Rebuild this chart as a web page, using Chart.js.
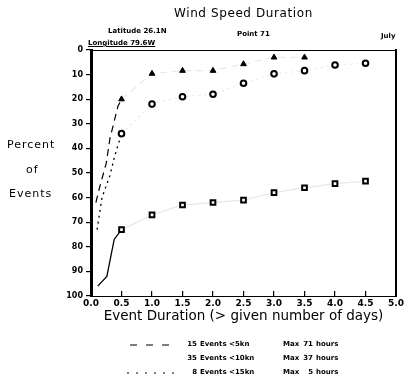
<!DOCTYPE html>
<html>
<head>
<meta charset="utf-8">
<script src="https://cdn.jsdelivr.net/npm/chart.js@4/dist/chart.umd.min.js"></script>
<style>
  html, body { margin: 0; padding: 0; background: #fff; }
  #wrap { position: relative; width: 411px; height: 385px; overflow: hidden; }
  #c { position: absolute; left: 0; top: 0; }
  .t { position: absolute; color: #000; font-family: "DejaVu Sans", sans-serif; white-space: nowrap; line-height: 1; }
  .sm { font-size: 7px; font-weight: bold; }
  .lg { font-size: 11px; letter-spacing: 1px; }
</style>
</head>
<body>
<div id="wrap">
  <canvas id="c" width="411" height="385"></canvas>
  <div class="t" style="left:174px;top:7px;font-size:12px;letter-spacing:0.6px;">Wind Speed Duration</div>
  <div class="t sm" style="left:108px;top:28px;">Latitude 26.1N</div>
  <div class="t sm" style="left:88px;top:40px;text-decoration:underline;">Longitude 79.6W</div>
  <div class="t sm" style="left:237px;top:31px;">Point 71</div>
  <div class="t sm" style="left:381px;top:33px;">July</div>
  <div class="t lg" style="left:7px;top:139px;">Percent</div>
  <div class="t lg" style="left:26px;top:164px;">of</div>
  <div class="t lg" style="left:9px;top:188px;">Events</div>
  <svg style="position:absolute;left:0;top:0" width="411" height="385">
    <line x1="130" y1="345" x2="178" y2="345" stroke="#000" stroke-width="1.2" stroke-dasharray="7,9"/>
    <line x1="127" y1="373" x2="181" y2="373" stroke="#000" stroke-width="1.2" stroke-dasharray="2,7"/>
  </svg>
  <div id="legend"></div>
</div>
<script>
// ---- data ----
const seriesNames = ["15 Events <5kn", "35 Events <10kn", "8 Events <15kn"];
const maxHours = ["71", "37", "5"];
const xTickLabels = ["0.0","0.5","1.0","1.5","2.0","2.5","3.0","3.5","4.0","4.5","5.0"];
const yTickLabels = ["0","10","20","30","40","50","60","70","80","90","100"];

// Series A (triangles, long dash)
const triX = [0.08, 0.15, 0.25, 0.31, 0.39, 0.44, 0.5, 1.0, 1.5, 2.0, 2.5, 3.0, 3.5];
const triY = [62, 55, 46, 36, 28, 23, 20, 9.6, 8.4, 8.4, 5.7, 3.0, 3.0];
// Series B (squares, solid)
const sqX = [0.11, 0.26, 0.38, 0.5, 1.0, 1.5, 2.0, 2.5, 3.0, 3.5, 4.0, 4.5];
const sqY = [96, 92, 77, 73, 67, 63, 62, 61, 58, 56, 54.3, 53.3];
// Series C (circles, dotted)
const cirX = [0.1, 0.18, 0.31, 0.39, 0.5, 1.0, 1.5, 2.0, 2.5, 3.0, 3.5, 4.0, 4.5];
const cirY = [73, 60, 51, 43, 34, 22, 19, 18, 13.5, 9.7, 8.4, 6.1, 5.4];

const pts = (xs, ys) => xs.map((x, i) => ({x: x, y: ys[i]}));
const faint = 'rgba(0,0,0,0.09)';
const segColor = ctx => ctx.p0.parsed.x >= 0.5 ? faint : '#000';

// legend (HTML text)
const legendRows = [345, 359, 373];
const lg = document.getElementById('legend');
seriesNames.forEach((name, i) => {
  const parts = name.split(' ');
  const num = parts[0], rest = parts.slice(1).join(' ');
  const y = legendRows[i] - 4;
  lg.insertAdjacentHTML('beforeend',
    `<div class="t sm" style="left:170px;width:27px;text-align:right;top:${y}px;">${num}</div>` +
    `<div class="t sm" style="left:200px;top:${y}px;">${rest}</div>` +
    `<div class="t sm" style="left:283px;top:${y}px;">Max</div>` +
    `<div class="t sm" style="left:296px;width:17px;text-align:right;top:${y}px;">${maxHours[i]}</div>` +
    `<div class="t sm" style="left:316px;top:${y}px;">hours</div>`);
});

new Chart(document.getElementById('c'), {
  type: 'scatter',
  data: {
    datasets: [
      { label: seriesNames[0], data: pts(triX, triY), showLine: true,
        borderColor: '#000', backgroundColor: '#000', borderWidth: 1.2, borderDash: [7, 5],
        pointStyle: 'triangle', pointBackgroundColor: '#000', pointBorderColor: '#000', pointBorderWidth: 1,
        pointRadius: triX.map(x => x === 0.5 || x >= 1 ? 3.3 : 0),
        segment: { borderColor: segColor } },
      { label: seriesNames[1], data: pts(sqX, sqY), showLine: true,
        borderColor: '#000', backgroundColor: '#fff', borderWidth: 1.3,
        pointStyle: 'rect', pointBackgroundColor: '#fff', pointBorderColor: '#000', pointBorderWidth: 2,
        pointRadius: sqX.map(x => x === 0.5 || x >= 1 ? 3.3 : 0),
        segment: { borderColor: segColor } },
      { label: seriesNames[2], data: pts(cirX, cirY), showLine: true,
        borderColor: '#000', backgroundColor: '#fff', borderWidth: 1.3, borderDash: [2, 4],
        pointStyle: 'circle', pointBackgroundColor: '#fff', pointBorderColor: '#000', pointBorderWidth: 2,
        pointRadius: cirX.map(x => x === 0.5 || x >= 1 ? 2.8 : 0),
        segment: { borderColor: segColor } }
    ]
  },
  options: {
    responsive: false,
    animation: false,
    layout: { padding: { left: 51, right: 14, top: 50, bottom: 60 } },
    plugins: { legend: { display: false }, tooltip: { enabled: false }, title: { display: false } },
    scales: {
      x: {
        type: 'linear', position: 'bottom', min: 0, max: 5,
        ticks: { stepSize: 0.5, padding: 7, color: '#000', font: { family: 'DejaVu Sans', size: 9, weight: 'bold' },
                 maxRotation: 0, autoSkip: false,
                 callback: v => xTickLabels[Math.round(v * 2)] },
        grid: { drawOnChartArea: false, tickLength: -5, color: '#000', lineWidth: 1.2 },
        border: { display: true, color: '#000', width: 1, dash: [4, 7] },
        title: { display: true, text: 'Event Duration (> given number of days)', color: '#000',
                 font: { family: 'DejaVu Sans', size: 13.5 }, padding: { top: 0, bottom: 0 } },
        afterFit: s => { s.height = 29; }
      },
      x2: {
        type: 'linear', position: 'top', min: 0, max: 5, display: true,
        ticks: { display: false },
        grid: { drawOnChartArea: false, drawTicks: false },
        border: { display: true, color: '#000', width: 1, dash: [12, 6] },
        afterFit: s => { s.height = 0; }
      },
      y: {
        type: 'linear', position: 'left', reverse: true, min: 0, max: 100,
        ticks: { stepSize: 10, padding: 3, color: '#000', font: { family: 'DejaVu Sans', size: 8, weight: 'bold' },
                 callback: v => yTickLabels[Math.round(v / 10)] },
        grid: { drawOnChartArea: false, tickLength: 5, color: '#000', lineWidth: 1.2 },
        border: { display: true, color: '#000', width: 3 },
        afterFit: s => { s.width = 40; }
      },
      y2: {
        type: 'linear', position: 'right', min: 0, max: 100, display: true,
        ticks: { display: false },
        grid: { drawOnChartArea: false, drawTicks: false },
        border: { display: true, color: '#000', width: 2 },
        afterFit: s => { s.width = 0; }
      }
    }
  }
});
</script>
</body>
</html>
